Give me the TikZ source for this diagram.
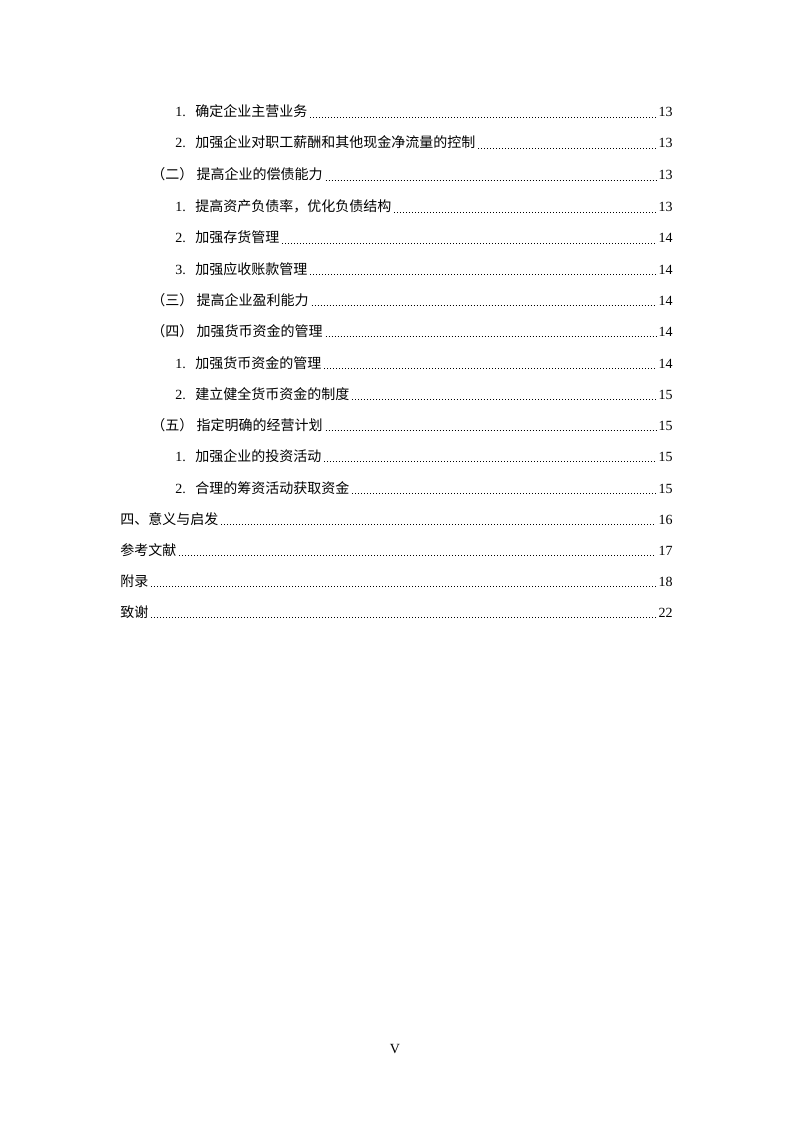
\documentclass[tikz,border=0pt]{standalone}
\usepackage{fontspec}
\setmainfont{Liberation Serif}
\newfontfamily\cjk{Noto Sans CJK SC}
\usepackage{tikz}
\tikzset{
  >=latex,
}
\tikzstyle{entry}=[anchor=base west,inner sep=0pt,font=\fontsize{10.5pt}{12pt}\selectfont]
\tikzstyle{pagenum}=[anchor=base east,inner sep=0pt,font=\fontsize{10.5pt}{12pt}\selectfont]
\tikzstyle{leader}=[line width=0.65pt,dash pattern=on 0.6pt off 1.65pt,shorten <=2pt,shorten >=2pt]
\newcommand{\itemno}[1]{\makebox[15pt][l]{#1}}
\newcommand{\secno}[1]{\makebox[34pt][l]{\cjk #1}}

\begin{document}
\begin{tikzpicture}[x=0.75pt,y=-0.75pt]
    \useasboundingbox[fill=white] (0,0) rectangle (794,1123);
    % entries
    \node[entry] (e1) at (175,117) {\itemno{1.}\cjk 确定企业主营业务};
    \node[entry] (e2) at (175,148) {\itemno{2.}\cjk 加强企业对职工薪酬和其他现金净流量的控制};
    \node[entry] (e3) at (151,180) {\secno{（二）}\cjk 提高企业的偿债能力};
    \node[entry] (e4) at (175,212) {\itemno{1.}\cjk 提高资产负债率，优化负债结构};
    \node[entry] (e5) at (175,243) {\itemno{2.}\cjk 加强存货管理};
    \node[entry] (e6) at (175,274) {\itemno{3.}\cjk 加强应收账款管理};
    \node[entry] (e7) at (151,305) {\secno{（三）}\cjk 提高企业盈利能力};
    \node[entry] (e8) at (151,336) {\secno{（四）}\cjk 加强货币资金的管理};
    \node[entry] (e9) at (175,368) {\itemno{1.}\cjk 加强货币资金的管理};
    \node[entry] (e10) at (175,399) {\itemno{2.}\cjk 建立健全货币资金的制度};
    \node[entry] (e11) at (151,430) {\secno{（五）}\cjk 指定明确的经营计划};
    \node[entry] (e12) at (175,461) {\itemno{1.}\cjk 加强企业的投资活动};
    \node[entry] (e13) at (175,493) {\itemno{2.}\cjk 合理的筹资活动获取资金};
    \node[entry] (e14) at (120,524) {\cjk 四、意义与启发};
    \node[entry] (e15) at (120,555) {\cjk 参考文献};
    \node[entry] (e16) at (120,586) {\cjk 附录};
    \node[entry] (e17) at (120,617) {\cjk 致谢};
    % page numbers
    \node[pagenum] (p1) at (673,117) {13};
    \node[pagenum] (p2) at (673,148) {13};
    \node[pagenum] (p3) at (673,180) {13};
    \node[pagenum] (p4) at (673,212) {13};
    \node[pagenum] (p5) at (673,243) {14};
    \node[pagenum] (p6) at (673,274) {14};
    \node[pagenum] (p7) at (673,305) {14};
    \node[pagenum] (p8) at (673,336) {14};
    \node[pagenum] (p9) at (673,368) {14};
    \node[pagenum] (p10) at (673,399) {15};
    \node[pagenum] (p11) at (673,430) {15};
    \node[pagenum] (p12) at (673,461) {15};
    \node[pagenum] (p13) at (673,493) {15};
    \node[pagenum] (p14) at (673,524) {16};
    \node[pagenum] (p15) at (673,555) {17};
    \node[pagenum] (p16) at (673,586) {18};
    \node[pagenum] (p17) at (673,617) {22};
    % leaders
    \draw[leader] (e1.base east)--(p1.base west);
    \draw[leader] (e2.base east)--(p2.base west);
    \draw[leader] (e3.base east)--(p3.base west);
    \draw[leader] (e4.base east)--(p4.base west);
    \draw[leader] (e5.base east)--(p5.base west);
    \draw[leader] (e6.base east)--(p6.base west);
    \draw[leader] (e7.base east)--(p7.base west);
    \draw[leader] (e8.base east)--(p8.base west);
    \draw[leader] (e9.base east)--(p9.base west);
    \draw[leader] (e10.base east)--(p10.base west);
    \draw[leader] (e11.base east)--(p11.base west);
    \draw[leader] (e12.base east)--(p12.base west);
    \draw[leader] (e13.base east)--(p13.base west);
    \draw[leader] (e14.base east)--(p14.base west);
    \draw[leader] (e15.base east)--(p15.base west);
    \draw[leader] (e16.base east)--(p16.base west);
    \draw[leader] (e17.base east)--(p17.base west);
    % folio
    \node[entry,anchor=base] (folio) at (395,1053) {V};
  \end{tikzpicture}
\end{document}
